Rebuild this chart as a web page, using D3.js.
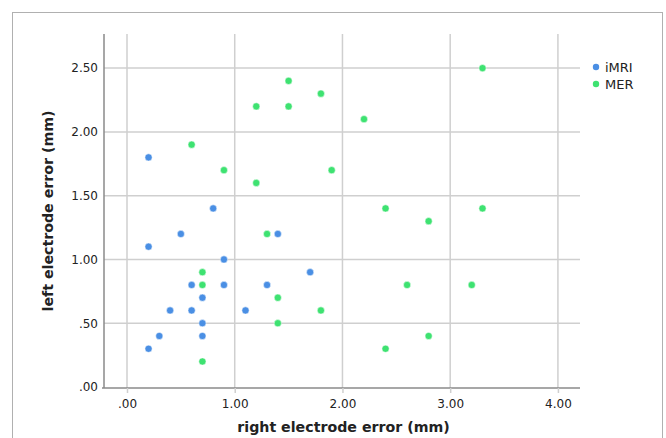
<!DOCTYPE html>
<html><head><meta charset="utf-8">
<script src="https://cdn.jsdelivr.net/npm/d3@7"></script>
<style>body{margin:0;background:#fff;} svg{display:block;}</style>
</head><body><svg id="c" width="666" height="438"></svg>
<script>
const seriesNames = ["iMRI", "MER"];
const seriesColors = ["#4a8fe4", "#3ee271"];
const imriX = [0.2,0.8,0.5,0.2,1.4,0.9,1.7,0.6,0.9,1.3,0.7,0.4,0.6,1.1,0.7,0.3,0.7,0.2];
const imriY = [1.8,1.4,1.2,1.1,1.2,1.0,0.9,0.8,0.8,0.8,0.7,0.6,0.6,0.6,0.5,0.4,0.4,0.3];
const merX = [1.5,1.8,1.2,1.5,0.6,0.9,1.9,1.2,3.3,2.2,2.4,3.3,2.8,1.3,0.7,0.7,2.6,3.2,1.4,1.8,1.4,2.8,2.4,0.7];
const merY = [2.4,2.3,2.2,2.2,1.9,1.7,1.7,1.6,2.5,2.1,1.4,1.4,1.3,1.2,0.9,0.8,0.8,0.8,0.7,0.6,0.5,0.4,0.3,0.2];
const xTicks = [0,1,2,3,4];
const yTicks = [0,0.5,1,1.5,2,2.5];
const fmt = v => v===0 ? ".00" : (v<1 ? d3.format(".2f")(v).replace(/^0/,"") : d3.format(".2f")(v));

const svg = d3.select("#c");
const font = "'DejaVu Sans', sans-serif";
svg.append("rect").attr("x",12.5).attr("y",12.5).attr("width",650).attr("height",440)
  .attr("fill","none").attr("stroke","#b0b0b0");

const L=104, R=580, T=34, B=388;
const x = d3.scaleLinear().domain([-0.2135, 4.205]).range([L,R]);
const y = d3.scaleLinear().domain([0, 2.7675]).range([B-1,T]);

const g = svg.append("g");
// gridlines
g.selectAll(".gx").data(xTicks).join("line")
  .attr("x1",d=>x(d)).attr("x2",d=>x(d)).attr("y1",T).attr("y2",B)
  .attr("stroke","#cfcfcf").attr("stroke-width",1.5);
g.selectAll(".gy").data(yTicks.filter(d=>d>0)).join("line")
  .attr("y1",d=>y(d)).attr("y2",d=>y(d)).attr("x1",L).attr("x2",R)
  .attr("stroke","#cfcfcf").attr("stroke-width",1.5);

// axes
const xAxis = d3.axisBottom(x).tickValues(xTicks).tickFormat(fmt).tickSize(5).tickPadding(6);
const yAxis = d3.axisLeft(y).tickValues(yTicks).tickFormat(fmt).tickSize(0).tickPadding(6);
const xa = svg.append("g").attr("transform",`translate(0,${B})`).call(xAxis);
const ya = svg.append("g").attr("transform",`translate(${L},0)`).call(yAxis);
xa.select(".domain").attr("d",`M${L-2},0H${R}`).attr("stroke","#8a8a8a").attr("stroke-width",1.5);
ya.select(".domain").attr("d",`M0,${T}V${B}`).attr("stroke","#8a8a8a").attr("stroke-width",1.5);
xa.selectAll(".tick line").attr("stroke","#cfcfcf").attr("stroke-width",1.5);
[xa,ya].forEach(a=>a.selectAll("text").attr("font-family",font).attr("font-size",12).attr("fill","#222"));

// points
const data = [
  {name:seriesNames[0], color:seriesColors[0], xs:imriX, ys:imriY},
  {name:seriesNames[1], color:seriesColors[1], xs:merX, ys:merY}
];
data.forEach(s=>{
  svg.append("g").selectAll("circle").data(s.xs.map((v,i)=>[v,s.ys[i]])).join("circle")
    .attr("cx",d=>x(d[0])).attr("cy",d=>y(d[1])).attr("r",3.6)
    .attr("fill",s.color).attr("stroke","#fff").attr("stroke-width",0.5);
});

// axis titles
svg.append("text").attr("x",343.5).attr("y",432).attr("text-anchor","middle")
  .attr("font-family",font).attr("font-size",14.2).attr("font-weight","bold").attr("fill","#222")
  .text("right electrode error (mm)");
svg.append("text").attr("transform",`translate(53,${(T+B)/2}) rotate(-90)`).attr("text-anchor","middle")
  .attr("font-family",font).attr("font-size",14.2).attr("font-weight","bold").attr("fill","#222")
  .text("left electrode error (mm)");

// legend
const lg = svg.append("g").attr("transform","translate(596,67)");
data.forEach((s,i)=>{
  lg.append("circle").attr("cx",0).attr("cy",i*17).attr("r",3.2).attr("fill",s.color);
  lg.append("text").attr("x",9).attr("y",i*17+4.5).attr("font-family",font).attr("font-size",13)
    .attr("fill","#222").text(s.name);
});
</script></body></html>
